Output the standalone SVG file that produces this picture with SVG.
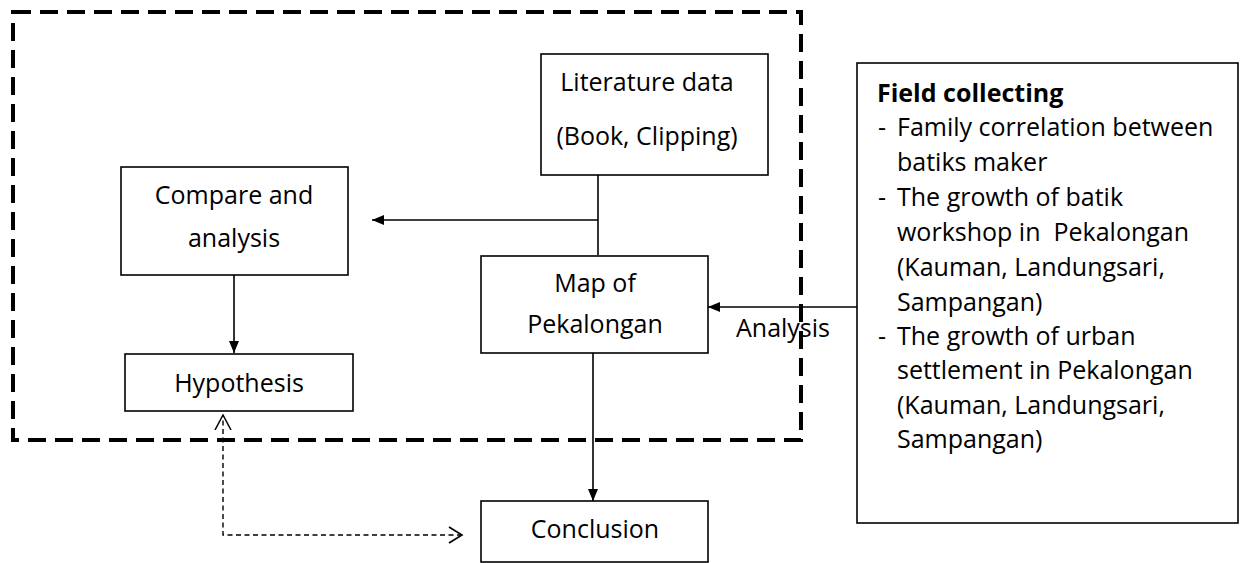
<svg xmlns="http://www.w3.org/2000/svg" width="1240" height="563" viewBox="0 0 1240 563">
<defs>
<style>
.box{fill:#fff;stroke:#000;stroke-width:1.6}
.t{font-family:"Open Sans",sans-serif;font-size:25px;fill:#000}
.c{text-anchor:middle}
.b{font-weight:bold}
.ln{fill:none;stroke:#000;stroke-width:1.6}
.dash{fill:none;stroke:#000;stroke-width:1.4;stroke-dasharray:5 3.5}
.frame{fill:none;stroke:#000;stroke-width:4;stroke-dasharray:18 9}
</style>
<marker id="ah" viewBox="0 0 12 10" refX="12" refY="5" markerWidth="12" markerHeight="10" markerUnits="userSpaceOnUse" orient="auto">
<path d="M0,0 L12,5 L0,10 Z" fill="#000"/>
</marker>
<marker id="oh" viewBox="0 0 16 18" refX="15" refY="9" markerWidth="16" markerHeight="18" markerUnits="userSpaceOnUse" orient="auto">
<path d="M0,1 L15,9 L0,17" fill="none" stroke="#000" stroke-width="1.5"/>
</marker>
</defs>
<rect width="1240" height="563" fill="#fff"/>
<rect id="frame" class="frame" x="13" y="12" width="788" height="428"/>
<g id="connectors">
<path class="ln" d="M598,175 V255"/>
<path class="ln" d="M598,220 H372" marker-end="url(#ah)"/>
<path class="ln" d="M234,275 V353" marker-end="url(#ah)"/>
<path class="ln" d="M857,307 H708" marker-end="url(#ah)"/>
<path class="ln" d="M593,353 V501" marker-end="url(#ah)"/>
<path class="dash" d="M462,535 H223 V415" marker-end="url(#oh)"/>
<path class="ln" d="M449,527 L462,535 L449,543" stroke-width="1.5"/>
</g>
<g id="literature">
<rect class="box" x="541" y="54" width="227" height="121"/>
<text class="t c" x="647" y="91">Literature data</text>
<text class="t c" x="647" y="145">(Book, Clipping)</text>
</g>
<g id="compare">
<rect class="box" x="121" y="167" width="227" height="108"/>
<text class="t c" x="234" y="204">Compare and</text>
<text class="t c" x="234" y="247">analysis</text>
</g>
<g id="hypothesis">
<rect class="box" x="125" y="354" width="228" height="57"/>
<text class="t c" x="239" y="392">Hypothesis</text>
</g>
<g id="map">
<rect class="box" x="481" y="256" width="227" height="97"/>
<text class="t c" x="595" y="292">Map of</text>
<text class="t c" x="595" y="333">Pekalongan</text>
</g>
<g id="analysis-label">
<text class="t" x="736" y="337">Analysis</text>
</g>
<g id="conclusion">
<rect class="box" x="481" y="501" width="227" height="61"/>
<text class="t c" x="595" y="538">Conclusion</text>
</g>
<g id="field">
<rect class="box" x="857" y="63" width="381" height="460"/>
<text class="t b" x="877" y="102">Field collecting</text>
<text class="t" x="878" y="136">-</text>
<text class="t" x="897" y="136">Family correlation between</text>
<text class="t" x="897" y="171">batiks maker</text>
<text class="t" x="878" y="206">-</text>
<text class="t" x="897" y="206">The growth of batik</text>
<text class="t" x="897" y="241" xml:space="preserve">workshop in  Pekalongan</text>
<text class="t" x="897" y="276">(Kauman, Landungsari,</text>
<text class="t" x="897" y="311">Sampangan)</text>
<text class="t" x="878" y="345">-</text>
<text class="t" x="897" y="345">The growth of urban</text>
<text class="t" x="897" y="379">settlement in Pekalongan</text>
<text class="t" x="897" y="414">(Kauman, Landungsari,</text>
<text class="t" x="897" y="448">Sampangan)</text>
</g>
</svg>
